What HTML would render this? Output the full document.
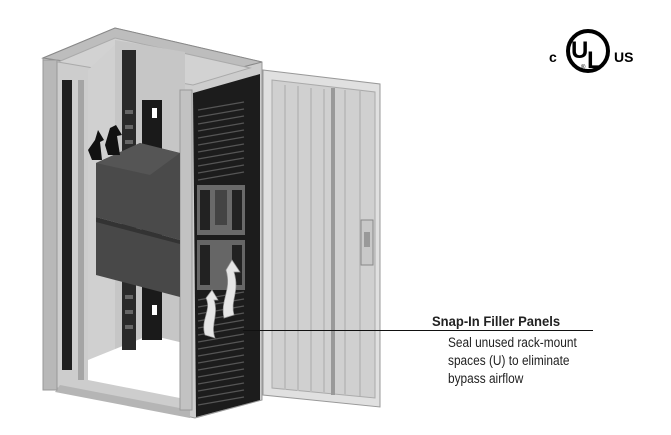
<!DOCTYPE html>
<html><head><style>
html,body{margin:0;padding:0;background:#fff;width:671px;height:435px;overflow:hidden}
svg{position:absolute;left:0;top:0}
.t{font-family:"Liberation Sans",sans-serif;position:absolute;color:#222}
</style></head><body>
<svg width="671" height="435" viewBox="0 0 671 435">
<!-- cabinet back/top -->
<polygon points="43,58 115,28 262,62 262,400 195,418 43,385" fill="#cdcdcd" stroke="#999" stroke-width="1"/>
<polygon points="43,58 115,28 262,62 193,80" fill="#bdbdbd" stroke="#888"/>
<polygon points="58,62 115,38 250,68 193,85" fill="#d2d2d2" stroke="#aaa"/>
<!-- interior back -->
<polygon points="115,40 185,52 185,370 115,355" fill="#c6c6c6"/>
<polygon points="88,70 115,45 115,355 88,365" fill="#d0d0d0"/>
<!-- floor -->
<polygon points="88,360 150,335 192,345 190,400 88,380" fill="#fff"/>
<polygon points="60,385 190,410 190,418 55,392" fill="#b5b5b5"/>
<!-- left frame posts -->
<rect x="43" y="60" width="14" height="330" fill="#b8b8b8" stroke="#999"/>
<rect x="62" y="80" width="10" height="290" fill="#1e1e1e"/>
<rect x="78" y="80" width="6" height="300" fill="#a5a5a5"/>
<rect x="180" y="90" width="12" height="320" fill="#c2c2c2" stroke="#999"/>
<!-- vertical cable manager back -->
<rect x="122" y="50" width="14" height="300" fill="#2a2a2a"/>
<rect x="142" y="100" width="20" height="240" fill="#1a1a1a"/>
<rect x="152" y="108" width="5" height="10" fill="#fff"/>
<rect x="152" y="305" width="5" height="10" fill="#fff"/>
<g fill="#666"><rect x="125" y="110" width="8" height="4"/><rect x="125" y="125" width="8" height="4"/><rect x="125" y="140" width="8" height="4"/><rect x="125" y="295" width="8" height="4"/><rect x="125" y="310" width="8" height="4"/><rect x="125" y="325" width="8" height="4"/></g>
<!-- boxes -->
<polygon points="96,163 140,143 180,153 180,240 96,217" fill="#4a4a4a"/>
<polygon points="96,163 140,143 180,153 150,175" fill="#555"/>
<polygon points="96,220 180,242 180,297 96,275" fill="#484848"/>
<polygon points="96,217 180,240 180,244 96,222" fill="#333"/>
<!-- black arrows -->
<path d="M88,150 L95,140 L98,130 L104,140 L100,142 L102,160 L92,160 Z" fill="#111"/>
<path d="M105,145 L110,128 L116,125 L122,135 L117,136 L120,155 L108,155 Z" fill="#111"/>
<!-- black rack -->
<polygon points="193,93 260,74 260,400 196,417" fill="#1c1c1c"/>
<g stroke="#555" stroke-width="1.2">
<line x1="198" y1="110" x2="244" y2="102"/><line x1="198" y1="117" x2="244" y2="109"/><line x1="198" y1="124" x2="244" y2="116"/><line x1="198" y1="131" x2="244" y2="123"/><line x1="198" y1="138" x2="244" y2="130"/><line x1="198" y1="145" x2="244" y2="137"/><line x1="198" y1="152" x2="244" y2="144"/><line x1="198" y1="159" x2="244" y2="151"/><line x1="198" y1="166" x2="244" y2="158"/><line x1="198" y1="173" x2="244" y2="165"/><line x1="198" y1="180" x2="244" y2="172"/>
<line x1="198" y1="300" x2="244" y2="292"/><line x1="198" y1="307" x2="244" y2="299"/><line x1="198" y1="314" x2="244" y2="306"/><line x1="198" y1="321" x2="244" y2="313"/><line x1="198" y1="328" x2="244" y2="320"/><line x1="198" y1="335" x2="244" y2="327"/><line x1="198" y1="342" x2="244" y2="334"/><line x1="198" y1="349" x2="244" y2="341"/><line x1="198" y1="356" x2="244" y2="348"/><line x1="198" y1="363" x2="244" y2="355"/><line x1="198" y1="370" x2="244" y2="362"/><line x1="198" y1="377" x2="244" y2="369"/><line x1="198" y1="384" x2="244" y2="376"/><line x1="198" y1="391" x2="244" y2="383"/><line x1="198" y1="398" x2="244" y2="390"/><line x1="198" y1="405" x2="244" y2="397"/>
</g>
<rect x="197" y="185" width="48" height="50" fill="#6a6a6a"/>
<rect x="197" y="240" width="48" height="50" fill="#666"/>
<g fill="#222"><rect x="200" y="190" width="10" height="40"/><rect x="232" y="190" width="10" height="40"/><rect x="200" y="245" width="10" height="40"/><rect x="232" y="245" width="10" height="40"/><rect x="215" y="190" width="12" height="35" fill="#444"/></g>
<!-- white arrows -->
<path d="M205,335 C200,320 212,310 206,298 L212,290 L218,300 L214,300 C219,315 210,325 215,338 Z" fill="#e6e6e6" stroke="#999" stroke-width=".7"/>
<path d="M224,318 C220,300 232,290 226,270 L232,260 L240,272 L234,272 C240,292 230,300 234,315 Z" fill="#e6e6e6" stroke="#999" stroke-width=".7"/>
<!-- door -->
<polygon points="263,70 380,84 380,407 263,395" fill="#e0e0e0" stroke="#999"/>
<polygon points="272,80 375,92 375,398 272,388" fill="#d0d0d0" stroke="#aaa"/>
<g stroke="#bdbdbd" stroke-width="2"><line x1="285" y1="85" x2="285" y2="390"/><line x1="298" y1="86" x2="298" y2="391"/><line x1="311" y1="88" x2="311" y2="392"/><line x1="324" y1="89" x2="324" y2="393"/><line x1="345" y1="90" x2="345" y2="395"/><line x1="360" y1="91" x2="360" y2="396"/></g>
<line x1="333" y1="88" x2="333" y2="395" stroke="#999" stroke-width="4"/>
<rect x="361" y="220" width="12" height="45" fill="#c8c8c8" stroke="#888"/>
<rect x="364" y="232" width="6" height="15" fill="#999"/>
<!-- leader -->
<line x1="243" y1="330.5" x2="593" y2="330.5" stroke="#111" stroke-width="1"/>
<!-- UL logo -->
<circle cx="588" cy="51" r="20" fill="none" stroke="#000" stroke-width="4"/>
<text x="571" y="58" font-family="Liberation Sans" font-weight="bold" font-size="24" fill="#000">U</text>
<text x="587" y="68" font-family="Liberation Sans" font-weight="bold" font-size="24" fill="#000">L</text>
<text x="581" y="69" font-family="Liberation Sans" font-size="6" fill="#000">®</text>
<text x="549" y="62" font-family="Liberation Sans" font-weight="bold" font-size="14" fill="#000">c</text>
<text x="614" y="62" font-family="Liberation Sans" font-weight="bold" font-size="14" fill="#000">US</text>
</svg>
<div class="t" style="left:432px;top:313px;font-size:14px;font-weight:bold;transform:scaleX(.93);transform-origin:left">Snap-In Filler Panels</div>
<div class="t" style="left:448px;top:334px;font-size:13.5px;line-height:18px;transform:scaleX(.88);transform-origin:left">Seal unused rack-mount<br>spaces (U) to eliminate<br>bypass airflow</div>
</body></html>
